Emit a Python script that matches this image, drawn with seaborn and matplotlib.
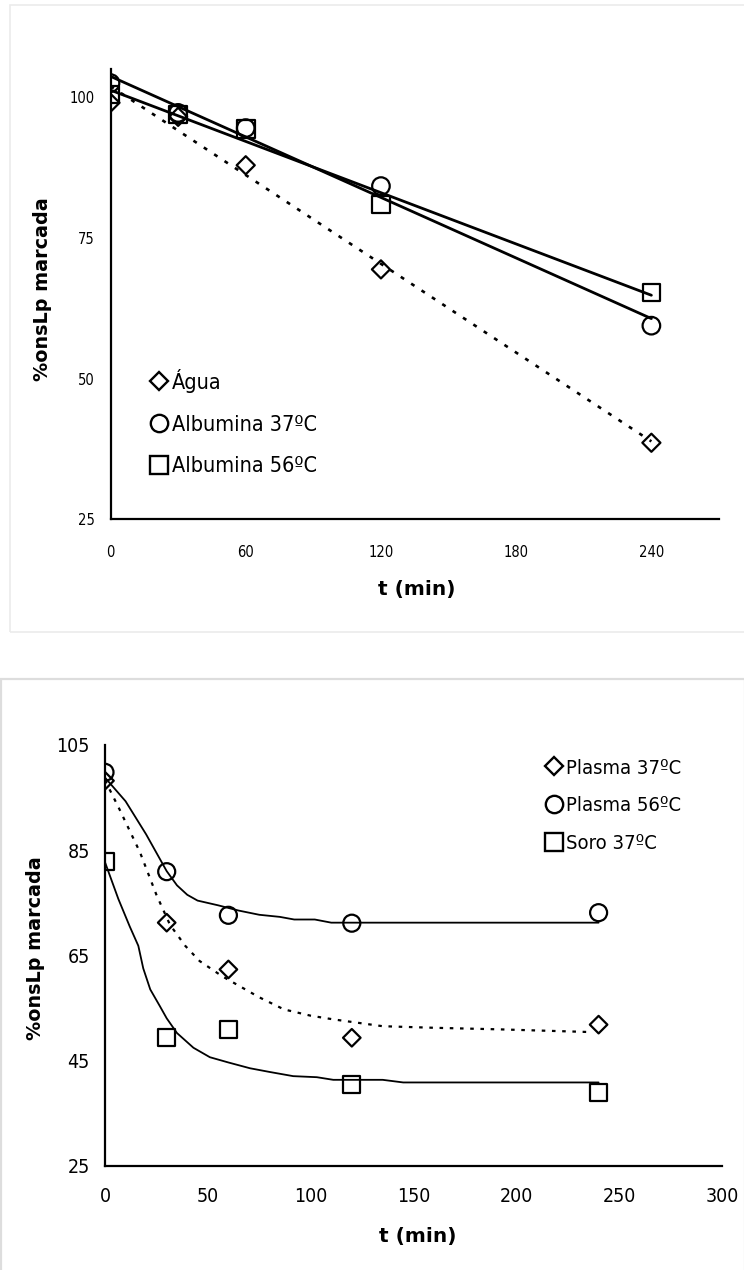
import matplotlib
matplotlib.use("Agg")
import matplotlib.pyplot as plt
from matplotlib.lines import Line2D
from matplotlib.patches import Rectangle
from matplotlib.font_manager import FontProperties
import seaborn as sns

# ---------------- data ----------------
t_top = [0, 30, 60, 120, 240]
agua = [99.0, 96.5, 87.9, 69.4, 38.6]
alb37 = [102.5, 97.2, 94.5, 84.2, 59.4]
alb56 = [100.5, 96.9, 94.3, 80.9, 65.3]
top_labels = ["Água", "Albumina 37ºC", "Albumina 56ºC"]
top_xticks = [0, 60, 120, 180, 240]
top_yticks = [25, 50, 75, 100]

t_bot = [0, 30, 60, 120, 240]
plasma37 = [98.2, 71.2, 62.3, 49.3, 51.8]
plasma56 = [99.8, 80.9, 72.6, 71.1, 73.1]
soro37 = [82.8, 49.3, 50.9, 40.4, 38.8]
bot_labels = ["Plasma 37ºC", "Plasma 56ºC", "Soro 37ºC"]
bot_xticks = [0, 50, 100, 150, 200, 250, 300]
bot_yticks = [25, 45, 65, 85, 105]

# fitted curves as drawn in the picture
fit_t_p56 = [0, 10, 20, 30, 35, 40, 45, 55, 65, 75, 85, 92, 102, 110, 240]
fit_p56 = [98.8, 94.3, 88.0, 81.0, 78.3, 76.5, 75.4, 74.5, 73.5, 72.7, 72.3, 71.8, 71.8, 71.2, 71.2]
fit_t_p37 = [0, 7, 17, 25, 31.6, 39, 46, 57, 66, 75, 87, 100, 111, 135, 160, 192, 235]
fit_p37 = [98.3, 92.8, 84.6, 76.5, 70.8, 66.8, 63.9, 61.0, 59.0, 57.0, 54.7, 53.5, 52.8, 51.5, 51.2, 50.9, 50.4]
fit_t_s37 = [0, 6.5, 12, 16.2, 18.6, 22, 26.7, 30, 35, 43, 51, 60, 70.5, 80, 91.5, 103, 111, 135, 145, 240]
fit_s37 = [82.7, 75.7, 70.5, 66.8, 62.5, 58.5, 55.3, 53.0, 50.2, 47.4, 45.6, 44.6, 43.5,
           42.8, 42.0, 41.8, 41.3, 41.3, 40.8, 40.8]

# ---------------- style ----------------
sns.set_style("white")
plt.rcParams["font.family"] = ["DejaVu Sans"]
for k in ("text.color", "axes.labelcolor", "xtick.color", "ytick.color"):
    plt.rcParams[k] = "black"

W, H = 744, 1270
fig = plt.figure(figsize=(W / 100, H / 100), dpi=100)

# panel frames
fig.add_artist(Rectangle((9.5 / W, 1 - 631.7 / H), 1.0, (631.7 - 4.7) / H,
                         transform=fig.transFigure, fill=False, edgecolor="#ebebeb", lw=1.2))
fig.add_artist(Rectangle((0.8 / W, 1 - 1300 / H), 1.0, (1300 - 678.5) / H,
                         transform=fig.transFigure, fill=False, edgecolor="#dddddd", lw=1.6))

def px_axes(x0, x1, ybot, ytop):
    return fig.add_axes([x0 / W, 1 - ybot / H, (x1 - x0) / W, (ybot - ytop) / H])

ax1 = px_axes(110.5, 719, 519.3, 69.0)
ax2 = px_axes(105, 722, 1165.5, 745.0)

cond_small = FontProperties(family="DejaVu Sans", stretch="condensed", size=10.5)
cond_big = FontProperties(family="DejaVu Sans", stretch="condensed", size=14)

mk = dict(facecolor="none", edgecolor="black", linewidth=1.6, zorder=4)

# ---------------- top panel ----------------
line_kw = dict(color="black", lw=2.0)
sns.regplot(x=t_top, y=alb37, ci=None, scatter=False, truncate=True, ax=ax1, line_kws=line_kw)
sns.regplot(x=t_top, y=alb56, ci=None, scatter=False, truncate=True, ax=ax1, line_kws=line_kw)
sns.regplot(x=t_top, y=agua, ci=None, scatter=False, truncate=True, ax=ax1,
            line_kws=dict(color="black", lw=1.9, linestyle=(0, (1.5, 3.2))))
sns.scatterplot(x=t_top, y=agua, marker="D", s=85, ax=ax1, **mk)
sns.scatterplot(x=t_top, y=alb37, marker="o", s=160, ax=ax1, **mk)
sns.scatterplot(x=t_top, y=alb56, marker="s", s=160, ax=ax1, **mk)

ax1.set_xlim(0, 270)
ax1.set_ylim(25, 105)
ax1.set_xticks(top_xticks)
ax1.set_yticks(top_yticks)

# ---------------- bottom panel ----------------
sns.lineplot(x=fit_t_p56, y=fit_p56, sort=False, estimator=None, ax=ax2, color="black", lw=1.3)
sns.lineplot(x=fit_t_s37, y=fit_s37, sort=False, estimator=None, ax=ax2, color="black", lw=1.3)
sns.lineplot(x=fit_t_p37, y=fit_p37, sort=False, estimator=None, ax=ax2, color="black", lw=1.6,
             linestyle=(0, (1.6, 3.0)))
sns.scatterplot(x=t_bot, y=plasma37, marker="D", s=80, ax=ax2, **mk)
sns.scatterplot(x=t_bot, y=plasma56, marker="o", s=150, ax=ax2, **mk)
sns.scatterplot(x=t_bot, y=soro37, marker="s", s=150, ax=ax2, **mk)

ax2.set_xlim(0, 300)
ax2.set_ylim(25, 105)
ax2.set_xticks(bot_xticks)
ax2.set_yticks(bot_yticks)

# ---------------- common axis styling ----------------
for ax, fp, xpad, ypad in ((ax1, cond_small, 14, 7), (ax2, cond_big, 11, 6.5)):
    sns.despine(ax=ax)
    ax.set_facecolor("none")
    for side in ("left", "bottom"):
        ax.spines[side].set_linewidth(1.6)
        ax.spines[side].set_color("black")
    ax.tick_params(axis="both", direction="out", length=4.5, width=1.4, color="black",
                   labelcolor="black")
    ax.tick_params(axis="x", pad=xpad)
    ax.tick_params(axis="y", pad=ypad)
    for lab in ax.get_xticklabels() + ax.get_yticklabels():
        lab.set_fontproperties(fp)
    ax.set_xlabel("t (min)", fontsize=14.5, fontweight="bold", color="black")
    ax.set_ylabel("%onsLp marcada", fontsize=13.8, fontweight="bold", color="black")
    ax.xaxis.label.set_va("center")
    ax.yaxis.label.set_va("center")

ax1.xaxis.set_label_coords(0.504, -0.157)
ax1.yaxis.set_label_coords(-0.111, 0.511)
ax2.xaxis.set_label_coords(0.507, -0.170)
ax2.yaxis.set_label_coords(-0.113, 0.516)

# ---------------- legends ----------------
def handles():
    return [Line2D([], [], ls="none", marker="D", ms=9, mfc="none", mec="black", mew=1.7),
            Line2D([], [], ls="none", marker="o", ms=12.5, mfc="none", mec="black", mew=1.7),
            Line2D([], [], ls="none", marker="s", ms=12.5, mfc="none", mec="black", mew=1.7)]

leg_fp1 = FontProperties(family="DejaVu Sans", stretch="condensed", size=15.5)
leg_fp2 = FontProperties(family="DejaVu Sans", stretch="condensed", size=14.5)

l1 = ax1.legend(handles(), top_labels, loc="upper left", bbox_to_anchor=(150 / W, 1 - 369 / H),
                bbox_transform=fig.transFigure, frameon=False, prop=leg_fp1, handlelength=0.8,
                handletextpad=0.2, labelspacing=1.0, borderpad=0, borderaxespad=0)
l2 = ax2.legend(handles(), bot_labels, loc="upper left", bbox_to_anchor=(546 / W, 1 - 758.5 / H),
                bbox_transform=fig.transFigure, frameon=False, prop=leg_fp2, handlelength=0.8,
                handletextpad=0.2, labelspacing=0.92, borderpad=0, borderaxespad=0)
for lg in (l1, l2):
    for txt in lg.get_texts():
        txt.set_color("black")

fig.savefig("out.png", dpi=100, facecolor="white")
